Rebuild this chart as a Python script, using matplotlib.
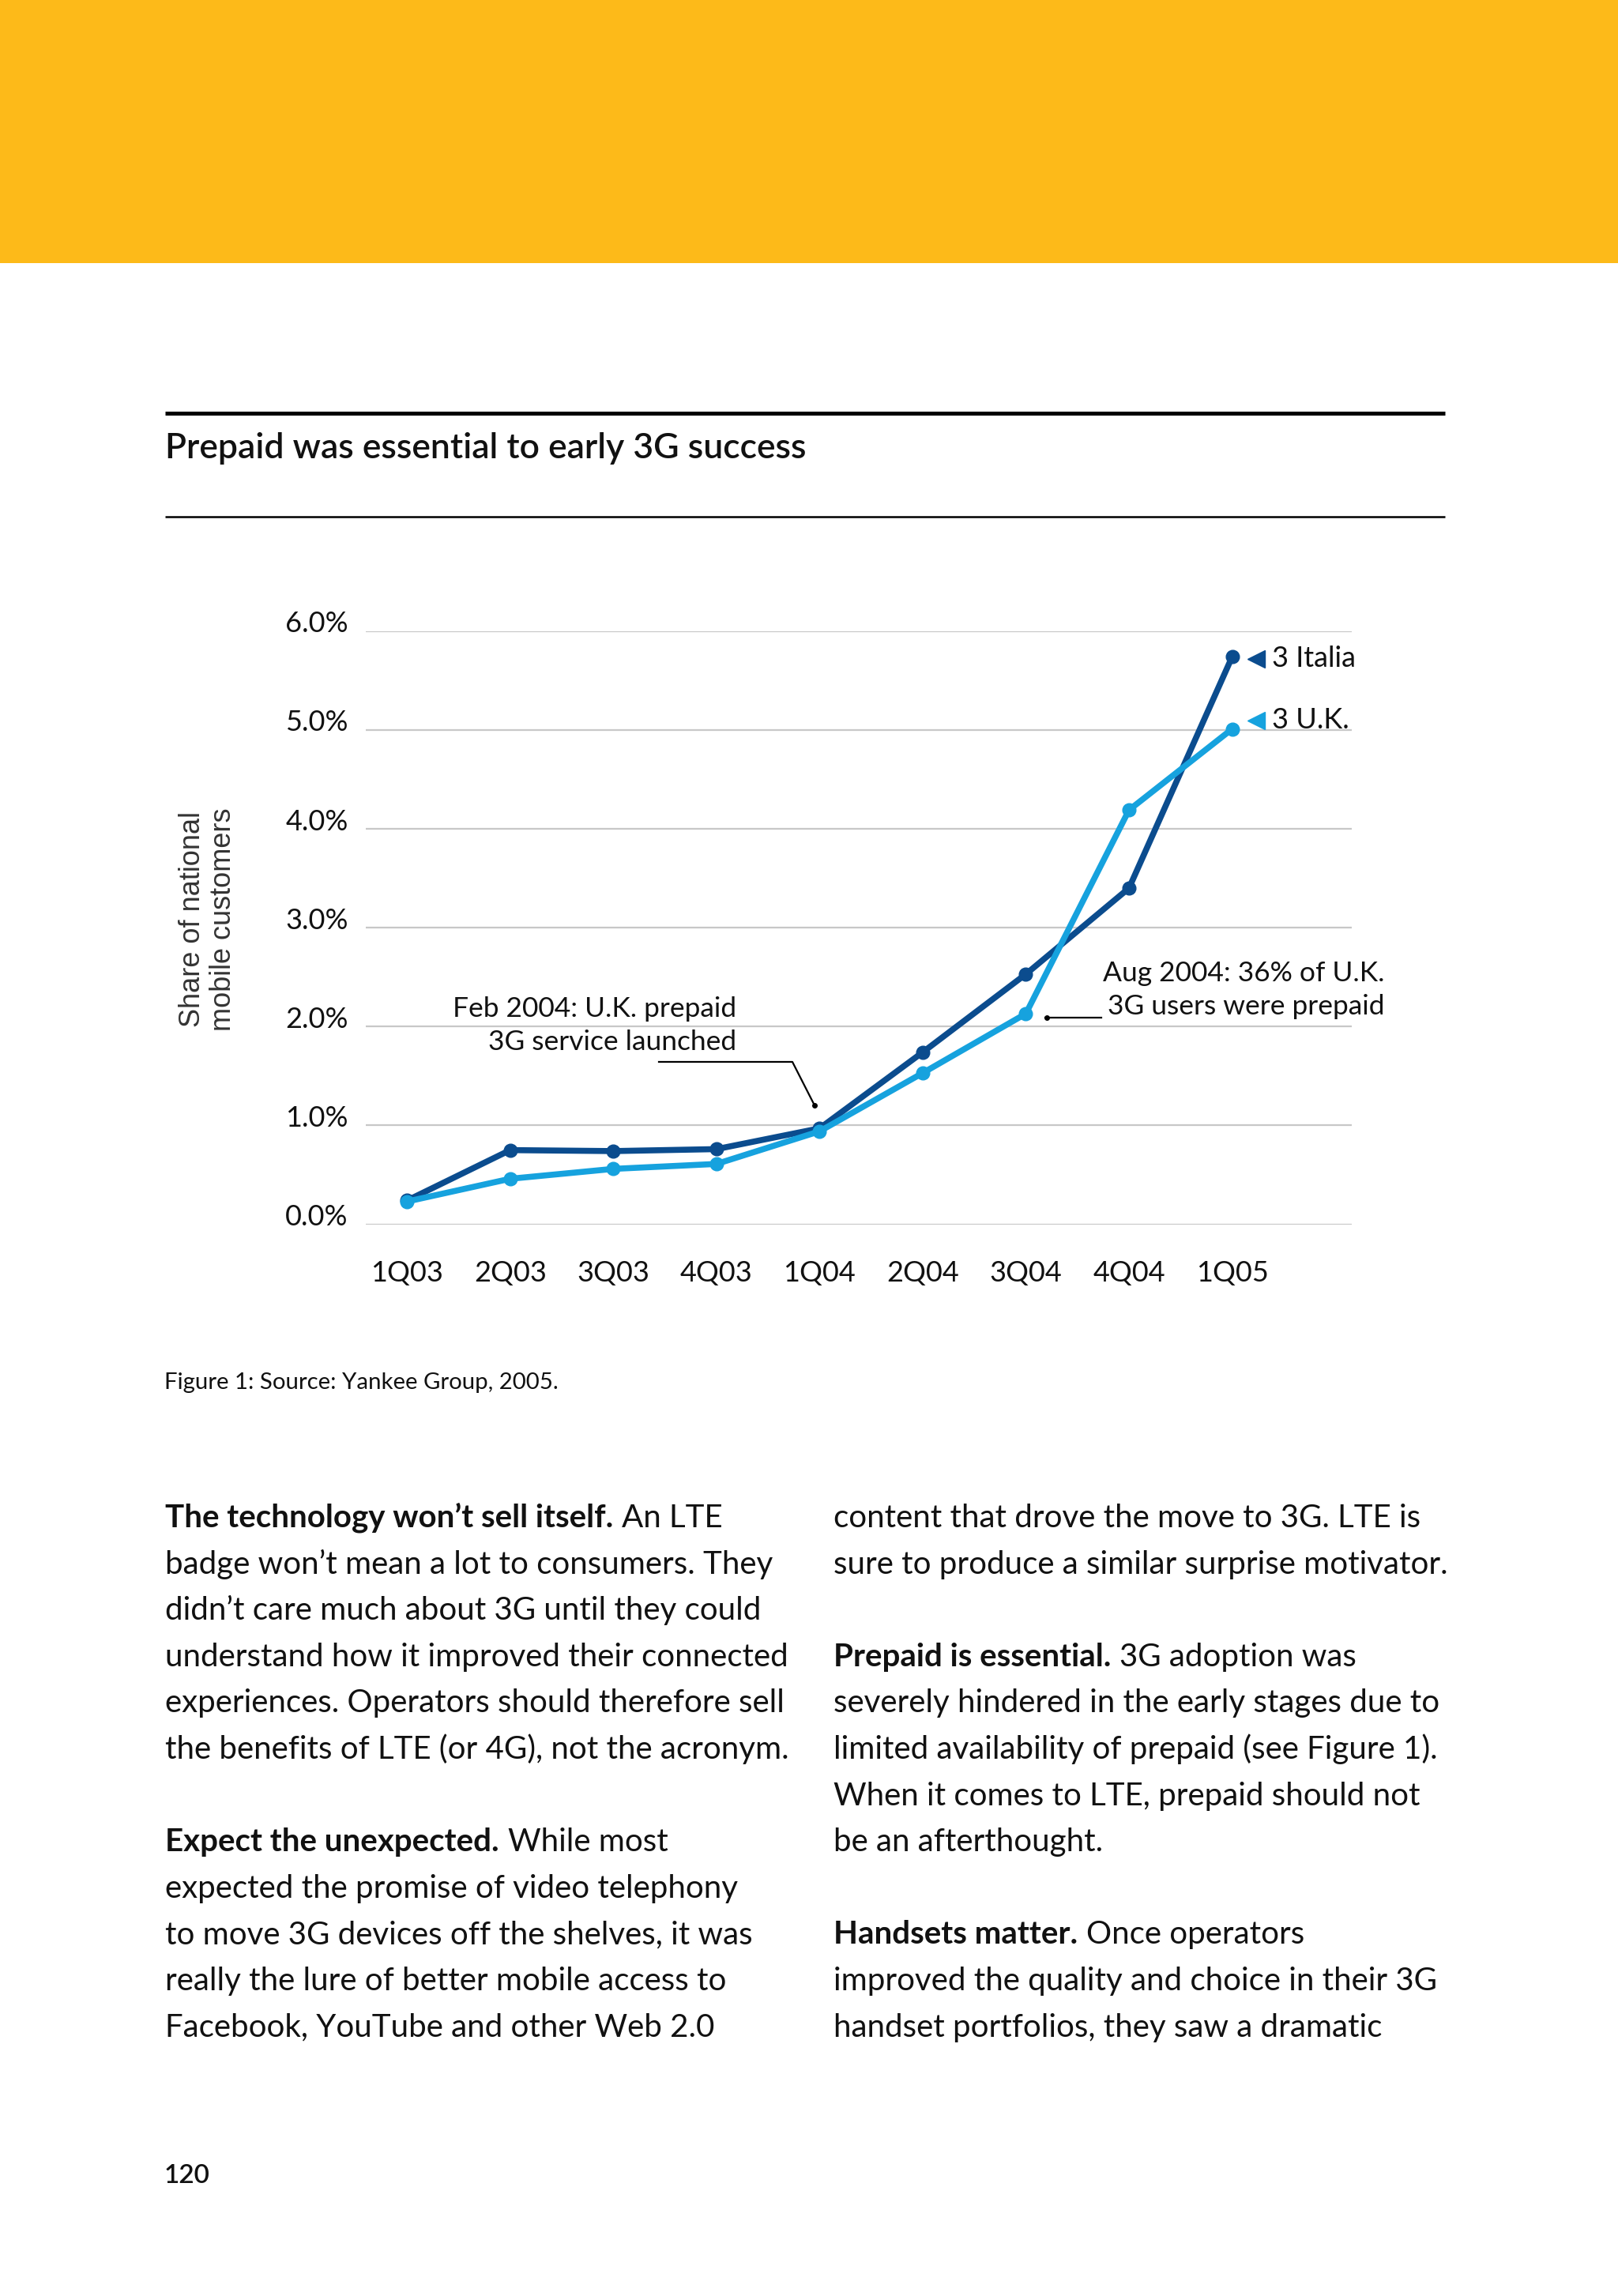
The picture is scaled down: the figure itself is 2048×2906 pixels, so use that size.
import matplotlib
matplotlib.use("Agg")
import matplotlib.pyplot as plt
from matplotlib.lines import Line2D
from matplotlib.patches import Rectangle
from matplotlib.transforms import ScaledTranslation

# ---------------- data ----------------
quarters = ["1Q03", "2Q03", "3Q03", "4Q03", "1Q04", "2Q04", "3Q04", "4Q04", "1Q05"]
italia = [0.24, 0.75, 0.74, 0.76, 0.97, 1.74, 2.53, 3.40, 5.74]
uk = [0.23, 0.46, 0.56, 0.61, 0.94, 1.53, 2.13, 4.19, 5.01]
y_ticks = [0, 1, 2, 3, 4, 5, 6]
y_tick_labels = ["0.0%", "1.0%", "2.0%", "3.0%", "4.0%", "5.0%", "6.0%"]

title = "Prepaid was essential to early 3G success"
caption = "Figure 1: Source: Yankee Group, 2005."
ylabel = "Share of national\nmobile customers"
note_feb = "Feb 2004: U.K. prepaid\n3G service launched"
note_aug = "Aug 2004: 36% of U.K.\n3G users were prepaid"
series_names = ["3 Italia", "3 U.K."]

left_col = [
    ("The technology won\u2019t sell itself.", "An LTE"),
    ("", "badge won\u2019t mean a lot to consumers. They"),
    ("", "didn\u2019t care much about 3G until they could"),
    ("", "understand how it improved their connected"),
    ("", "experiences. Operators should therefore sell"),
    ("", "the benefits of LTE (or 4G), not the acronym."),
    None,
    ("Expect the unexpected.", "While most"),
    ("", "expected the promise of video telephony"),
    ("", "to move 3G devices off the shelves, it was"),
    ("", "really the lure of better mobile access to"),
    ("", "Facebook, YouTube and other Web 2.0"),
]
right_col = [
    ("", "content that drove the move to 3G. LTE is"),
    ("", "sure to produce a similar surprise motivator."),
    None,
    ("Prepaid is essential.", "3G adoption was"),
    ("", "severely hindered in the early stages due to"),
    ("", "limited availability of prepaid (see Figure 1)."),
    ("", "When it comes to LTE, prepaid should not"),
    ("", "be an afterthought."),
    None,
    ("Handsets matter.", "Once operators"),
    ("", "improved the quality and choice in their 3G"),
    ("", "handset portfolios, they saw a dramatic"),
]
page_number = "120"

# ---------------- style ----------------
W, H = 2048, 2906
DPI = 100
FONT = "Lato"
plt.rcParams["font.family"] = [FONT, "DejaVu Sans"]

C_DARK = "#0B4C8E"
C_LIGHT = "#16A2DE"
C_YELLOW = "#FDBA19"
C_GRID = "#C8C8C8"
C_TEXT = "#111111"

fig = plt.figure(figsize=(W / DPI, H / DPI), dpi=DPI)
fig.patch.set_facecolor("white")


def fx(x):
    return x / W


def fy(y):
    return 1 - y / H


# yellow band
fig.add_artist(Rectangle((0, fy(333)), 1, 333 / H, transform=fig.transFigure,
                         facecolor=C_YELLOW, edgecolor="none", zorder=0))

# rules
fig.add_artist(Line2D([fx(209), fx(1829)], [fy(523), fy(523)], transform=fig.transFigure,
                      color="black", lw=3.6, solid_capstyle="butt"))
fig.add_artist(Line2D([fx(209), fx(1829)], [fy(654), fy(654)], transform=fig.transFigure,
                      color="black", lw=1.8, solid_capstyle="butt"))

fig.text(fx(209), fy(567), title, fontsize=32, fontweight="semibold", color=C_TEXT,
         ha="left", va="center")

# ---------------- chart ----------------
ax_l, ax_r = 463, 1711
ax_b, ax_t = 1549.5, 798.8
ax = fig.add_axes([fx(ax_l), fy(ax_b), (ax_r - ax_l) / W, (ax_b - ax_t) / H])
ax.set_facecolor("none")
x = list(range(len(quarters)))
ax.set_xlim(-0.40, 9.16)
ax.set_ylim(0, 6)
for s in ax.spines.values():
    s.set_visible(False)
ax.set_yticks(y_ticks)
ax.set_yticklabels(y_tick_labels)
ax.yaxis.grid(True, color=C_GRID, lw=1.6)
ax.set_axisbelow(True)
ax.set_xticks(x)
ax.set_xticklabels(quarters)
ax.tick_params(axis="both", length=0, labelsize=26, labelcolor=C_TEXT)
ax.tick_params(axis="y", pad=16)
ax.tick_params(axis="x", pad=33)
for lab in ax.get_yticklabels():
    lab.set_transform(lab.get_transform() + ScaledTranslation(0, 0.12, fig.dpi_scale_trans))

ax.plot(x, italia, color=C_DARK, lw=5.5, marker="o", ms=12, clip_on=False, zorder=3)
ax.plot(x, uk, color=C_LIGHT, lw=5.5, marker="o", ms=12, clip_on=False, zorder=4)

fig.text(fx(263), fy(1164), ylabel, fontsize=26, color="#333333",
         family=["Liberation Sans", "DejaVu Sans"], rotation=90, ha="center", va="center",
         multialignment="center", linespacing=1.12)

# legend markers
fig.add_artist(Line2D([fx(1590)], [fy(834)], transform=fig.transFigure, marker="<",
                      ms=16, color=C_DARK, lw=0))
fig.add_artist(Line2D([fx(1590)], [fy(912)], transform=fig.transFigure, marker="<",
                      ms=16, color=C_LIGHT, lw=0))
fig.text(fx(1610), fy(834), series_names[0], fontsize=26, color=C_TEXT, ha="left", va="center")
fig.text(fx(1610), fy(912), series_names[1], fontsize=26, color=C_TEXT, ha="left", va="center")

# annotations
fig.text(fx(932), fy(1298), note_feb, fontsize=25.5, color=C_TEXT, ha="right", va="center",
         multialignment="right", linespacing=1.4)
fig.add_artist(Line2D([fx(834), fx(1003), fx(1031)], [fy(1344), fy(1344), fy(1399)],
                      transform=fig.transFigure, color="black", lw=1.6))
fig.add_artist(Line2D([fx(1031)], [fy(1399)], transform=fig.transFigure, marker="o",
                      ms=4, color="black", lw=0))

fig.text(fx(1752), fy(1253), note_aug, fontsize=25.5, color=C_TEXT, ha="right", va="center",
         multialignment="right", linespacing=1.4)
fig.add_artist(Line2D([fx(1323), fx(1394)], [fy(1288), fy(1288)],
                      transform=fig.transFigure, color="black", lw=1.6))
fig.add_artist(Line2D([fx(1325)], [fy(1288)], transform=fig.transFigure, marker="o",
                      ms=4, color="black", lw=0))

# caption
fig.text(fx(208), fy(1750), caption, fontsize=21.2, color=C_TEXT, ha="left", va="center")

# ---------------- body text ----------------
renderer = fig.canvas.get_renderer()
BODY_FS = 29
base0 = 1933
step = 58.6


def draw_col(lines, x0):
    for i, item in enumerate(lines):
        if item is None:
            continue
        bold, reg = item
        yb = fy(base0 + step * i)
        xx = fx(x0)
        if bold:
            t = fig.text(xx, yb, bold, fontsize=BODY_FS, fontweight="bold", color=C_TEXT,
                         ha="left", va="baseline")
            bb = t.get_window_extent(renderer=renderer)
            xx = (bb.x1 + 11) / W
        fig.text(xx, yb, reg, fontsize=BODY_FS, color=C_TEXT, ha="left", va="baseline")


draw_col(left_col, 209)
draw_col(right_col, 1055)

fig.text(fx(208), fy(2754), page_number, fontsize=24, fontweight="semibold", color=C_TEXT,
         ha="left", va="center")

fig.savefig("out.png", dpi=DPI, facecolor="white")
